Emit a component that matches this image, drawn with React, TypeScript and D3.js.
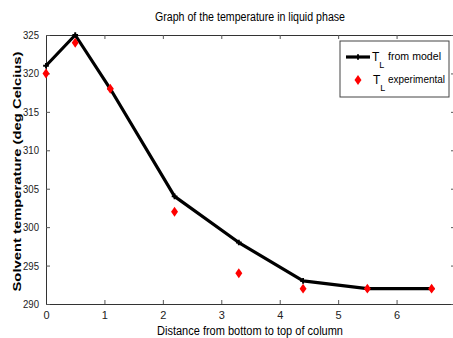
import { useEffect, useRef } from 'react'
import * as d3 from 'd3'

const distances = [0, 0.5, 1.1, 2.2, 3.3, 4.4, 5.5, 6.6]
const modelTemps = [321, 325, 318, 304, 298, 293, 292, 292]
const expTemps = [320, 324, 318, 302, 294, 292, 292, 292]
const xTicks = [0, 1, 2, 3, 4, 5, 6]
const yTicks = [290, 295, 300, 305, 310, 315, 320, 325]

const FONT = 'Liberation Sans, Arial, sans-serif'

export default function App() {
  const svgRef = useRef<SVGSVGElement>(null)

  useEffect(() => {
    if (!svgRef.current) return
    const width = 453
    const height = 338
    const margin = { top: 35, right: -2, bottom: 34, left: 46 }

    const svg = d3.select(svgRef.current)
    svg.selectAll('*').remove()
    svg.attr('width', width).attr('height', height)

    svg.append('rect').attr('width', width).attr('height', height).attr('fill', '#fff')

    const x = d3.scaleLinear().domain([0, 7]).range([margin.left, width - margin.right])
    const y = d3.scaleLinear().domain([290, 325]).range([height - margin.bottom, margin.top])

    // box axes, ticks point inward
    const tickStyle = (g: any) => {
      g.select('.domain').attr('stroke', '#333').attr('stroke-width', 1)
      g.selectAll('.tick line').attr('stroke', '#555')
      g.selectAll('text').attr('font-family', FONT).attr('font-size', 11).attr('fill', '#222')
    }
    svg.append('g')
      .attr('transform', `translate(0,${y(290)})`)
      .call(d3.axisBottom(x).tickValues(xTicks).tickSize(-4).tickPadding(7).tickFormat(d3.format('d')))
      .call(tickStyle)
    svg.append('g')
      .attr('transform', `translate(0,${y(325)})`)
      .call(d3.axisTop(x).tickValues(xTicks).tickSize(-4).tickFormat(() => ''))
      .call(tickStyle)
    svg.append('g')
      .attr('transform', `translate(${x(0)},0)`)
      .call(d3.axisLeft(y).tickValues(yTicks).tickSize(-4).tickPadding(7).tickFormat(d3.format('d')))
      .call(tickStyle)
      .selectAll('text').attr('textLength', 16).attr('lengthAdjust', 'spacingAndGlyphs')
    svg.append('g')
      .attr('transform', `translate(${x(7)},0)`)
      .call(d3.axisRight(y).tickValues(yTicks).tickSize(-4).tickFormat(() => ''))
      .call(tickStyle)

    // model line
    const pts = distances.map((d, i) => [d, modelTemps[i]] as [number, number])
    const line = d3.line<[number, number]>().x(d => x(d[0])).y(d => y(d[1]))
    svg.append('path')
      .datum(pts)
      .attr('d', line)
      .attr('fill', 'none')
      .attr('stroke', '#000')
      .attr('stroke-width', 3.2)
      .attr('stroke-linejoin', 'round')

    const cross = d3.symbol(d3.symbolCross, 18)
    svg.selectAll('.mk')
      .data(pts)
      .join('path')
      .attr('transform', d => `translate(${x(d[0])},${y(d[1])})`)
      .attr('d', cross)
      .attr('fill', '#000')

    // experimental points
    const diamond = d3.symbol(d3.symbolDiamond2, 48)
    svg.selectAll('.exp')
      .data(distances.map((d, i) => [d, expTemps[i]]))
      .join('path')
      .attr('transform', d => `translate(${x(d[0])},${y(d[1])}) scale(0.8,1.15)`)
      .attr('d', diamond)
      .attr('fill', '#f00')

    svg.append('text')
      .attr('x', 250).attr('y', 21)
      .attr('text-anchor', 'middle')
      .attr('font-family', FONT).attr('font-size', 12)
      .attr('textLength', 190).attr('lengthAdjust', 'spacingAndGlyphs')
      .text('Graph of the temperature in liquid phase')

    svg.append('text')
      .attr('x', 250).attr('y', 335)
      .attr('text-anchor', 'middle')
      .attr('font-family', FONT).attr('font-size', 12)
      .attr('textLength', 186).attr('lengthAdjust', 'spacingAndGlyphs')
      .text('Distance from bottom to top of column')
    svg.append('text')
      .attr('transform', `translate(21,${(y(290) + y(325)) / 2 + 2}) rotate(-90)`)
      .attr('text-anchor', 'middle')
      .attr('font-family', FONT).attr('font-size', 11).attr('font-weight', 'bold')
      .attr('textLength', 240).attr('lengthAdjust', 'spacingAndGlyphs')
      .text('Solvent temperature (deg Celcius)')

    // legend
    const lg = svg.append('g')
    lg.append('rect')
      .attr('x', 340).attr('y', 41).attr('width', 109).attr('height', 56)
      .attr('fill', '#fff').attr('stroke', '#444').attr('stroke-width', 1)
    lg.append('line')
      .attr('x1', 346).attr('x2', 370).attr('y1', 57).attr('y2', 57)
      .attr('stroke', '#000').attr('stroke-width', 3.2)
    lg.append('path').attr('transform', 'translate(358,57)').attr('d', cross).attr('fill', '#000')
    lg.append('path').attr('transform', 'translate(358,80) scale(0.8,1.15)').attr('d', diamond).attr('fill', '#f00')

    const entries = [
      { y: 57, tx: 372, label: 'from model', len: 53 },
      { y: 80, tx: 373, label: 'experimental', len: 57 },
    ]
    entries.forEach(e => {
      const t = lg.append('text')
        .attr('y', e.y + 4)
        .attr('font-family', FONT).attr('font-size', 12)
      t.append('tspan').attr('x', e.tx).text('T')
      t.append('tspan').attr('dy', 7).attr('font-size', 9).text('L')
      lg.append('text')
        .attr('x', 388).attr('y', e.y + 3)
        .attr('font-family', FONT).attr('font-size', 11)
        .attr('textLength', e.len).attr('lengthAdjust', 'spacingAndGlyphs')
        .text(e.label)
    })
  }, [])

  return (
    <div style={{ position: 'absolute', left: 0, top: 0 }}>
      <svg ref={svgRef} style={{ display: 'block' }}></svg>
    </div>
  )
}
